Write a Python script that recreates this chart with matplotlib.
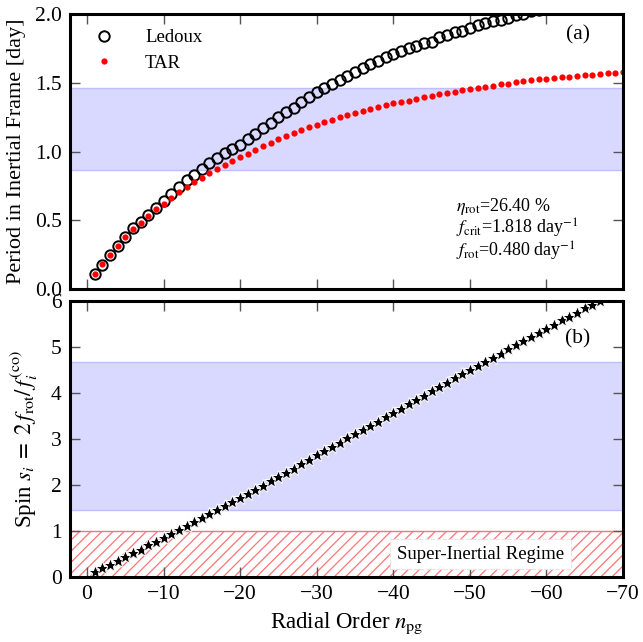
import numpy as np
from matplotlib import pyplot as plt

plt.rcParams['font.family'] = ['Liberation Serif', 'DejaVu Serif']
plt.rcParams['mathtext.fontset'] = 'stix'
plt.rcParams['hatch.linewidth'] = 0.9

# radial order of the modes
n_pg = list(range(-1, -71, -1))

# period in inertial frame [day], Ledoux (goes off the top after ~ -57)
p_ledoux = [0.11, 0.175, 0.245, 0.31, 0.38, 0.44, 0.49, 0.54, 0.59, 0.64,
            0.69, 0.74, 0.79, 0.83, 0.875, 0.915, 0.95, 0.99, 1.02, 1.05,
            1.09, 1.13, 1.17, 1.21, 1.25, 1.29, 1.32, 1.36, 1.40, 1.43,
            1.46, 1.49, 1.52, 1.55, 1.58, 1.61, 1.635, 1.66, 1.685, 1.71,
            1.73, 1.75, 1.77, 1.79, 1.80, 1.83, 1.85, 1.87, 1.88, 1.90,
            1.92, 1.935, 1.95, 1.96, 1.975, 1.99, 2.00, 2.02, 2.03, 2.05,
            2.06, 2.08, 2.09, 2.10, 2.12, 2.13, 2.14, 2.16, 2.17, 2.18]

# period in inertial frame [day], TAR
p_tar = [0.11, 0.18, 0.245, 0.31, 0.375, 0.435, 0.48, 0.53, 0.58, 0.62,
         0.665, 0.705, 0.745, 0.78, 0.81, 0.84, 0.87, 0.90, 0.93, 0.96,
         0.985, 1.01, 1.04, 1.065, 1.09, 1.115, 1.135, 1.155, 1.175, 1.195,
         1.215, 1.23, 1.25, 1.265, 1.28, 1.295, 1.31, 1.325, 1.34, 1.35,
         1.36, 1.37, 1.385, 1.395, 1.405, 1.415, 1.425, 1.435, 1.445, 1.455,
         1.465, 1.47, 1.48, 1.49, 1.495, 1.505, 1.51, 1.52, 1.525, 1.53,
         1.535, 1.54, 1.545, 1.55, 1.555, 1.56, 1.565, 1.57, 1.575, 1.58]

# spin parameter
spin = [0.11, 0.19, 0.27, 0.36, 0.43, 0.52, 0.60, 0.69, 0.77, 0.85,
        0.94, 1.03, 1.11, 1.20, 1.29, 1.38, 1.46, 1.55, 1.63, 1.72,
        1.81, 1.90, 1.99, 2.08, 2.18, 2.27, 2.36, 2.46, 2.55, 2.65,
        2.74, 2.83, 2.92, 3.02, 3.11, 3.20, 3.29, 3.38, 3.48, 3.57,
        3.66, 3.76, 3.85, 3.94, 4.04, 4.13, 4.22, 4.32, 4.41, 4.50,
        4.59, 4.68, 4.77, 4.86, 4.95, 5.04, 5.13, 5.22, 5.31, 5.40,
        5.49, 5.58, 5.66, 5.75, 5.84, 5.92, 6.01, 6.10, 6.18, 6.27]

# observed ranges (blue bands)
period_band = [0.865, 1.465]
spin_band = [1.45, 4.68]

fig = plt.figure(figsize=(6.43, 6.42), dpi=100)
ax1 = fig.add_axes([0.109, 0.550, 0.860, 0.428])
ax2 = fig.add_axes([0.109, 0.101, 0.860, 0.430])

for ax in (ax1, ax2):
    ax.set_xlim(2.2, -70)
    ax.set_xticks(np.arange(0, -71, -10))
    ax.tick_params(direction='in', top=True, right=True, length=7, width=1,
                   color='#555555', labelsize=15.5, pad=6)
    for s in ax.spines.values():
        s.set_linewidth(2.2)

# panel (a)
ax1.axhspan(period_band[0], period_band[1], facecolor=(0.85, 0.85, 1.0),
            edgecolor=(0.75, 0.75, 1.0), lw=1, zorder=0)
ax1.plot(n_pg, p_ledoux, 'o', mfc='none', mec='black', mew=1.4, ms=7.5,
         label='Ledoux')
ax1.plot(n_pg, p_tar, 'o', color='red', ms=4.5, mec='none', label='TAR')
ax1.set_ylim(0, 2.0)
ax1.set_yticks([0, 0.5, 1.0, 1.5, 2.0])
ax1.set_yticklabels(['0.0', '0.5', '1.0', '1.5', '2.0'])
ax1.set_xticklabels([])
ax1.set_ylabel('Period in Inertial Frame [day]', fontsize=16, labelpad=6)
ax1.legend(loc='upper left', frameon=False, numpoints=1, fontsize=13.5,
           handletextpad=1.2, borderaxespad=0.4, labelspacing=0.45)
ax1.text(0.94, 0.925, '(a)', transform=ax1.transAxes, fontsize=15.5,
         ha='right', va='center')
ax1.text(0.697, 0.300, r'$\eta_{\rm rot}$=26.40 %', transform=ax1.transAxes,
         fontsize=13, va='center')
ax1.text(0.697, 0.220, r'$f_{\rm crit}$=1.818 day$^{-1}$',
         transform=ax1.transAxes, fontsize=13, va='center')
ax1.text(0.697, 0.138, r'$f_{\rm rot}$=0.480 day$^{-1}$',
         transform=ax1.transAxes, fontsize=13, va='center')

# panel (b)
ax2.axhspan(spin_band[0], spin_band[1], facecolor=(0.85, 0.85, 1.0),
            edgecolor=(0.75, 0.75, 1.0), lw=1, zorder=0)
ax2.axhspan(0, 1, facecolor='none', edgecolor=(1.0, 0.45, 0.45), hatch='///',
            lw=1, zorder=0)
ax2.plot(n_pg, spin, '*', color='black', mec='white', mew=0.7, ms=10.5)
ax2.set_ylim(0, 6)
ax2.set_yticks(range(0, 7))
ax2.set_ylabel(r'Spin $s_i\;=\;2\,f_{\rm rot}/\,f_i^{\rm (co)}$',
               fontsize=16.5, labelpad=8)
ax2.set_xlabel(r'Radial Order $n_{\rm pg}$', fontsize=16.5, labelpad=4)
ax2.text(0.94, 0.865, '(b)', transform=ax2.transAxes, fontsize=15.5,
         ha='right', va='center')
ax2.text(-51.4, 0.5, 'Super-Inertial Regime', fontsize=13.5, ha='center',
         va='center', bbox=dict(boxstyle='square,pad=0.35', fc='white',
                                ec='#e4e4e4', ls='--', lw=0.8))

fig.savefig('out.png', dpi=100)
